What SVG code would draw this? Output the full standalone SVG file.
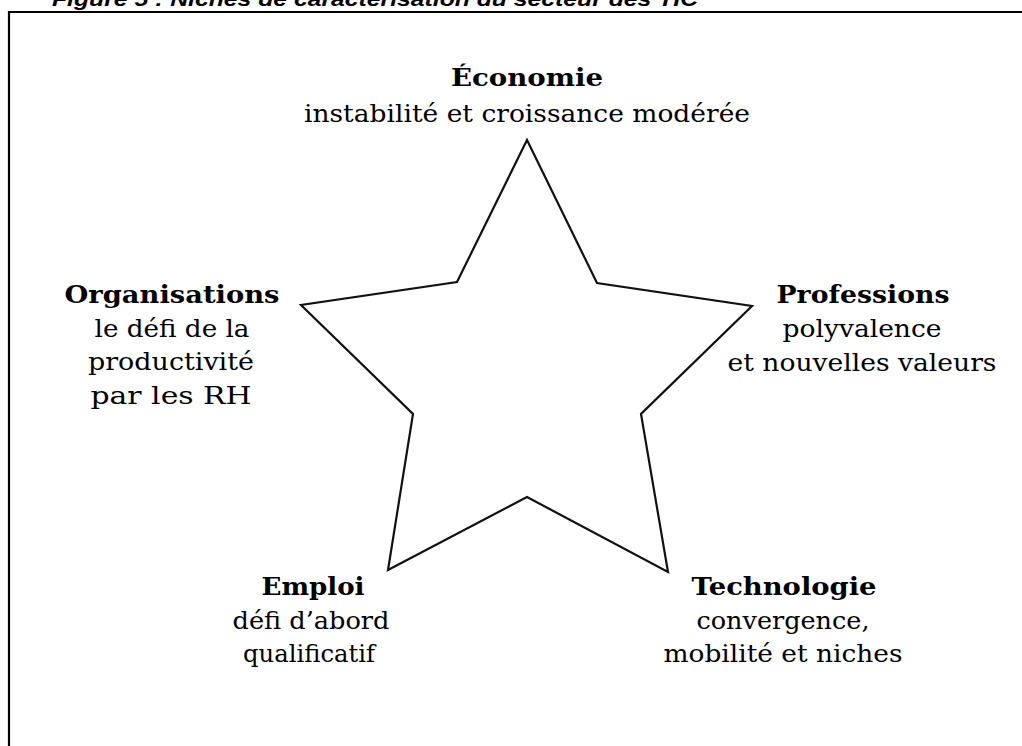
<svg xmlns="http://www.w3.org/2000/svg" width="1022" height="746" viewBox="0 0 1022 746">
  <style>
    .title { font-family: "Liberation Sans", Arial, sans-serif; font-weight: bold; font-style: italic; font-size: 21px; fill: #000; }
    .head { font-family: "DejaVu Serif", "Liberation Serif", serif; font-weight: bold; font-size: 25px; fill: #000; text-anchor: middle; }
    .body { font-family: "DejaVu Serif", "Liberation Serif", serif; font-size: 25px; fill: #000; text-anchor: middle; }
    .frame { fill: none; stroke: #000; stroke-width: 2.2; }
    .star { fill: #fff; stroke: #111; stroke-width: 2.2; stroke-linejoin: miter; }
  </style>
  <rect width="1022" height="746" fill="#fff"/>

  <!-- figure caption, partly above the top edge -->
  <text class="title" x="52" y="6" textLength="646" lengthAdjust="spacingAndGlyphs">Figure 5 : Niches de caractérisation du secteur des TIC</text>

  <!-- frame -->
  <path class="frame" d="M9 746 V12 H1022"/>

  <!-- five-pointed star -->
  <g id="star">
    <polygon class="star" points="527,140 597,283 752,306 641,414 668,572 527,497 388,570 413,414 301,305 457,282"/>
  </g>

  <g id="economie">
    <text class="head" x="527" y="86" textLength="152" lengthAdjust="spacingAndGlyphs">Économie</text>
    <text class="body" x="527" y="122" textLength="446" lengthAdjust="spacingAndGlyphs">instabilité et croissance modérée</text>
  </g>

  <g id="organisations">
    <text class="head" x="172" y="303" textLength="215" lengthAdjust="spacingAndGlyphs">Organisations</text>
    <text class="body" x="172" y="337" textLength="155" lengthAdjust="spacingAndGlyphs">le défi de la</text>
    <text class="body" x="171" y="370" textLength="166" lengthAdjust="spacingAndGlyphs">productivité</text>
    <text class="body" x="171" y="404" textLength="161" lengthAdjust="spacingAndGlyphs">par les RH</text>
  </g>

  <g id="professions">
    <text class="head" x="863" y="303" textLength="173" lengthAdjust="spacingAndGlyphs">Professions</text>
    <text class="body" x="862" y="337" textLength="159" lengthAdjust="spacingAndGlyphs">polyvalence</text>
    <text class="body" x="862" y="371" textLength="269" lengthAdjust="spacingAndGlyphs">et nouvelles valeurs</text>
  </g>

  <g id="emploi">
    <text class="head" x="313" y="595" textLength="103" lengthAdjust="spacingAndGlyphs">Emploi</text>
    <text class="body" x="311" y="629" textLength="157" lengthAdjust="spacingAndGlyphs">défi d’abord</text>
    <text class="body" x="309" y="662" textLength="132" lengthAdjust="spacingAndGlyphs">qualificatif</text>
  </g>

  <g id="technologie">
    <text class="head" x="784" y="595" textLength="185" lengthAdjust="spacingAndGlyphs">Technologie</text>
    <text class="body" x="783" y="629" textLength="173" lengthAdjust="spacingAndGlyphs">convergence,</text>
    <text class="body" x="783" y="662" textLength="239" lengthAdjust="spacingAndGlyphs">mobilité et niches</text>
  </g>
</svg>
